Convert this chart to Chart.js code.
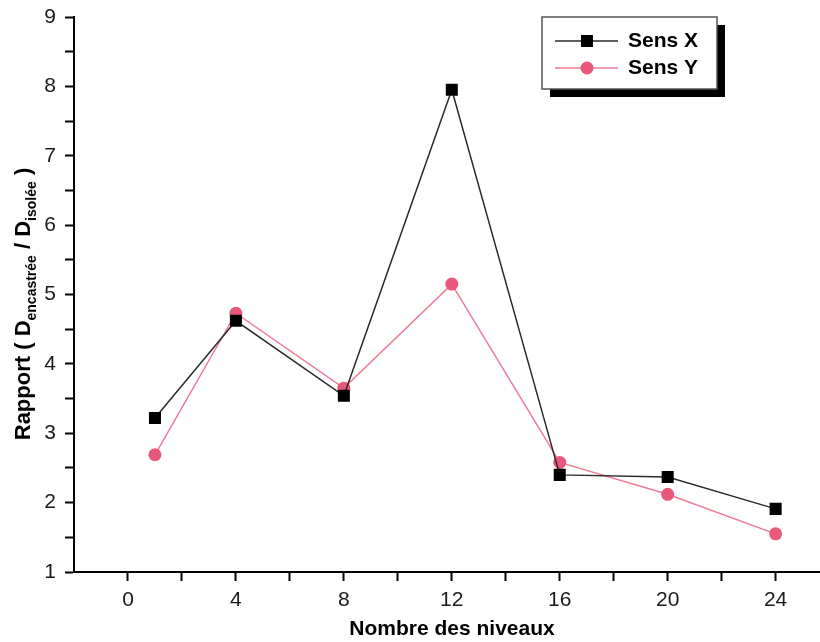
<!DOCTYPE html>
<html>
<head>
<meta charset="utf-8">
<script src="https://cdn.jsdelivr.net/npm/chart.js@4.4.1/dist/chart.umd.min.js"></script>
<style>
  html, body { margin: 0; padding: 0; background: #fff; overflow: hidden; }
  #wrap { width: 820px; height: 642px; overflow: hidden; }
  #c { display: block; }
</style>
</head>
<body>
<div id="wrap"><canvas id="c" width="830" height="642"></canvas></div>
<script>
// donnees
const niveaux = [1, 4, 8, 12, 16, 20, 24];
const sensX = [3.22, 4.62, 3.54, 7.95, 2.40, 2.37, 1.91];
const sensY = [2.69, 4.73, 3.65, 5.15, 2.58, 2.12, 1.55];
const xTicks = [0, 4, 8, 12, 16, 20, 24];
const xMinor = [2, 6, 10, 14, 18, 22];
const yTicks = [1, 2, 3, 4, 5, 6, 7, 8, 9];
const yMinor = [1.5, 2.5, 3.5, 4.5, 5.5, 6.5, 7.5, 8.5];
const seriesNames = ['Sens X', 'Sens Y'];

const FONT = '"Liberation Sans", Arial, sans-serif';
const ROSE = '#e8587a';

function toPoints(ys) {
  return niveaux.map((x, i) => ({ x: x, y: ys[i] }));
}

// titres des axes + legende (style Origin)
const decor = {
  id: 'decor',
  afterDraw(chart) {
    const ctx = chart.ctx;
    ctx.save();
    ctx.fillStyle = '#000';

    // titre axe X
    ctx.font = 'bold 21px ' + FONT;
    ctx.textAlign = 'center';
    ctx.textBaseline = 'alphabetic';
    ctx.fillText('Nombre des niveaux', 452, 635);

    // titre axe Y avec indices
    const parts = [
      ['Rapport ( D', false], ['encastrée', true], [' / D', false], ['isolée', true], [' )', false]
    ];
    const big = 'bold 22px ' + FONT, small = 'bold 14px ' + FONT;
    let total = 0;
    parts.forEach(p => { ctx.font = p[1] ? small : big; total += ctx.measureText(p[0]).width; });
    ctx.translate(30, 304);
    ctx.rotate(-Math.PI / 2);
    ctx.textAlign = 'left';
    let px = -total / 2;
    parts.forEach(p => {
      ctx.font = p[1] ? small : big;
      ctx.fillText(p[0], px, p[1] ? 6 : 0);
      px += ctx.measureText(p[0]).width;
    });
    ctx.setTransform(1, 0, 0, 1, 0, 0);

    // legende
    const bx = 542, by = 17, bw = 175, bh = 72;
    ctx.fillStyle = '#000';
    ctx.fillRect(bx + 8, by + 8, bw, bh);
    ctx.fillStyle = '#fff';
    ctx.fillRect(bx, by, bw, bh);
    ctx.strokeStyle = '#555';
    ctx.lineWidth = 1.5;
    ctx.strokeRect(bx, by, bw, bh);

    const rows = [41, 68];
    chart.data.datasets.forEach((ds, i) => {
      const y = rows[i];
      ctx.strokeStyle = ds.borderColor;
      ctx.lineWidth = ds.borderWidth;
      ctx.beginPath();
      ctx.moveTo(555, y);
      ctx.lineTo(618, y);
      ctx.stroke();
      ctx.fillStyle = ds.pointBackgroundColor;
      if (ds.pointStyle === 'rect') {
        ctx.fillRect(581, y - 6, 12, 12);
      } else {
        ctx.beginPath();
        ctx.arc(587, y, 6.5, 0, Math.PI * 2);
        ctx.fill();
      }
      ctx.fillStyle = '#000';
      ctx.font = 'bold 21px ' + FONT;
      ctx.textAlign = 'left';
      ctx.textBaseline = 'middle';
      ctx.fillText(ds.label, 628, y);
    });
    ctx.restore();
  }
};

const chart = new Chart(document.getElementById('c'), {
  type: 'line',
  data: {
    datasets: [
      {
        label: seriesNames[0],
        data: toPoints(sensX),
        borderColor: '#2a2a2a',
        borderWidth: 1.5,
        pointStyle: 'rect',
        pointRadius: 8.5,
        pointBackgroundColor: '#000',
        pointBorderWidth: 0,
        tension: 0
      },
      {
        label: seriesNames[1],
        data: toPoints(sensY),
        borderColor: '#f07a94',
        borderWidth: 1.5,
        pointStyle: 'circle',
        pointRadius: 6.5,
        pointBackgroundColor: ROSE,
        pointBorderWidth: 0,
        tension: 0
      }
    ]
  },
  options: {
    responsive: false,
    animation: false,
    events: [],
    layout: { padding: { top: 17, right: 0, bottom: 0, left: 0 } },
    plugins: {
      legend: { display: false },
      tooltip: { enabled: false }
    },
    scales: {
      x: {
        type: 'linear',
        min: -2,
        max: 25.7,
        afterFit(scale) { scale.height = 70; },
        afterBuildTicks(scale) {
          scale.ticks = xTicks.concat(xMinor).sort((a, b) => a - b).map(v => ({ value: v }));
        },
        ticks: {
          autoSkip: false,
          maxRotation: 0,
          padding: 7,
          color: '#1a1a1a',
          font: { family: FONT, size: 21 },
          callback: v => xTicks.includes(v) ? String(v) : ''
        },
        grid: { drawOnChartArea: false, tickLength: 9, tickColor: '#000', tickWidth: 2 },
        border: { display: true, color: '#000', width: 2 }
      },
      y: {
        type: 'linear',
        min: 1,
        max: 9,
        afterFit(scale) { scale.width = 74; scale.paddingTop = 0; scale.paddingBottom = 0; },
        afterBuildTicks(scale) {
          scale.ticks = yTicks.concat(yMinor).sort((a, b) => a - b).map(v => ({ value: v }));
        },
        ticks: {
          autoSkip: false,
          padding: 9,
          color: '#1a1a1a',
          font: { family: FONT, size: 21 },
          callback: v => yTicks.includes(v) ? String(v) : ''
        },
        grid: { drawOnChartArea: false, tickLength: 9, tickColor: '#000', tickWidth: 2 },
        border: { display: true, color: '#000', width: 2 }
      }
    }
  },
  plugins: [decor]
});
</script>
</body>
</html>
